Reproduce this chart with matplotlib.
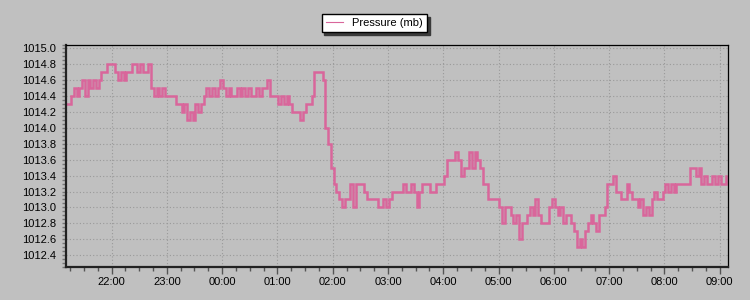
import matplotlib
matplotlib.use("Agg")
import matplotlib.pyplot as plt
import matplotlib.dates as mdates
from matplotlib.lines import Line2D
from matplotlib.ticker import MultipleLocator, FormatStrFormatter
import pandas as pd

series_label = "Pressure (mb)"
start_time = "2000-01-01 21:10"
sample_step = "3min"
x_start = "2000-01-01 21:10"
x_end = "2000-01-02 09:09"

pressure = [
    1014.3, 1014.3, 1014.4, 1014.5, 1014.4, 1014.5, 1014.6, 1014.4, 1014.6, 1014.5,
    1014.6, 1014.5, 1014.6, 1014.7, 1014.7, 1014.8, 1014.8, 1014.8, 1014.7, 1014.6,
    1014.7, 1014.6, 1014.7, 1014.7, 1014.8, 1014.8, 1014.7, 1014.8, 1014.7, 1014.7,
    1014.8, 1014.5, 1014.4, 1014.5, 1014.4, 1014.5, 1014.4, 1014.4, 1014.4, 1014.4,
    1014.3, 1014.3, 1014.2, 1014.3, 1014.1, 1014.2, 1014.1, 1014.3, 1014.2, 1014.3,
    1014.4, 1014.5, 1014.4, 1014.5, 1014.4, 1014.5, 1014.6, 1014.5, 1014.4, 1014.5,
    1014.4, 1014.4, 1014.5, 1014.4, 1014.5, 1014.4, 1014.5, 1014.4, 1014.4, 1014.5,
    1014.4, 1014.5, 1014.5, 1014.6, 1014.4, 1014.4, 1014.4, 1014.3, 1014.4, 1014.3,
    1014.4, 1014.3, 1014.2, 1014.2, 1014.2, 1014.1, 1014.2, 1014.3, 1014.3, 1014.4,
    1014.7, 1014.7, 1014.7, 1014.6, 1014.0, 1013.8, 1013.5, 1013.3, 1013.2, 1013.1,
    1013.0, 1013.1, 1013.1, 1013.3, 1013.0, 1013.3, 1013.3, 1013.3, 1013.2, 1013.1,
    1013.1, 1013.1, 1013.1, 1013.0, 1013.0, 1013.1, 1013.0, 1013.1, 1013.2, 1013.2,
    1013.2, 1013.2, 1013.3, 1013.2, 1013.2, 1013.3, 1013.2, 1013.0, 1013.2, 1013.3,
    1013.3, 1013.3, 1013.2, 1013.2, 1013.3, 1013.3, 1013.3, 1013.4, 1013.6, 1013.6,
    1013.6, 1013.7, 1013.6, 1013.4, 1013.5, 1013.5, 1013.7, 1013.5, 1013.7, 1013.6,
    1013.5, 1013.3, 1013.3, 1013.1, 1013.1, 1013.1, 1013.1, 1013.0, 1012.8, 1013.0,
    1013.0, 1012.9, 1012.8, 1012.9, 1012.6, 1012.8, 1012.8, 1012.9, 1013.0, 1012.9,
    1013.1, 1012.9, 1012.8, 1012.8, 1012.8, 1013.0, 1013.1, 1013.0, 1012.9, 1013.0,
    1012.8, 1012.9, 1012.9, 1012.8, 1012.7, 1012.5, 1012.6, 1012.5, 1012.7, 1012.8,
    1012.9, 1012.8, 1012.7, 1012.9, 1012.9, 1013.0, 1013.3, 1013.3, 1013.4, 1013.2,
    1013.2, 1013.1, 1013.1, 1013.3, 1013.2, 1013.1, 1013.1, 1013.0, 1013.1, 1012.9,
    1013.0, 1012.9, 1013.1, 1013.2, 1013.1, 1013.1, 1013.2, 1013.3, 1013.2, 1013.3,
    1013.2, 1013.3, 1013.3, 1013.3, 1013.3, 1013.3, 1013.5, 1013.5, 1013.4, 1013.5,
    1013.3, 1013.4, 1013.3, 1013.3, 1013.4, 1013.3, 1013.4, 1013.3, 1013.3, 1013.4,
]
y_limits = (1012.25, 1015.05)

times = pd.date_range(start_time, periods=len(pressure), freq=sample_step)

plt.rcParams['font.family'] = ['Liberation Sans', 'DejaVu Sans']
bg = '#C0C0C0'
line_color = '#D9669B'

fig = plt.figure(figsize=(7.5, 3.0), dpi=100, facecolor=bg)
ax = fig.add_axes([65.5/750, 33/300, (728-65.5)/750, (267-44.5)/300])
ax.set_facecolor(bg)

ax.plot(times, pressure, color=line_color, lw=1.8, drawstyle='steps-post',
        solid_joinstyle='miter')

ax.set_xlim(pd.Timestamp(x_start), pd.Timestamp(x_end))
ax.set_ylim(*y_limits)

ax.xaxis.set_major_locator(mdates.HourLocator())
ax.xaxis.set_minor_locator(mdates.MinuteLocator(byminute=[15, 30, 45]))
ax.xaxis.set_major_formatter(mdates.DateFormatter('%H:%M'))
ax.yaxis.set_major_locator(MultipleLocator(0.2))
ax.yaxis.set_minor_locator(MultipleLocator(0.05))
ax.yaxis.set_major_formatter(FormatStrFormatter('%.1f'))

ax.grid(True, which='major', color='#999999', linestyle=(0, (1, 2)), linewidth=0.8)

ax.tick_params(axis='x', which='major', length=5, width=1, color='#555555',
               labelsize=8, pad=2.5, labelcolor='black')
ax.tick_params(axis='x', which='minor', length=3, width=1, color='#555555')
ax.tick_params(axis='y', which='major', length=3, width=1, color='#777777',
               labelsize=8, pad=4, labelcolor='black')
ax.tick_params(axis='y', which='minor', length=3, width=1, color='#777777')

for side in ['left', 'bottom']:
    ax.spines[side].set_linewidth(1.6)
    ax.spines[side].set_color('#222222')
for side in ['top', 'right']:
    ax.spines[side].set_linewidth(0.9)
    ax.spines[side].set_color('black')

handle = Line2D([], [], color=line_color, lw=0.8)
leg = fig.legend([handle], [series_label], loc='center',
                 bbox_to_anchor=(0.499, 1 - 23/300), fontsize=8,
                 frameon=True, fancybox=False, shadow={'color': '#3a3a3a', 'alpha': 1.0},
                 handlelength=1.6, handletextpad=0.8, borderpad=0.35,
                 borderaxespad=0)
leg.get_frame().set_edgecolor('black')
leg.get_frame().set_linewidth(1.0)
leg.get_frame().set_facecolor('white')

fig.savefig('out.png', dpi=100, facecolor=bg)
